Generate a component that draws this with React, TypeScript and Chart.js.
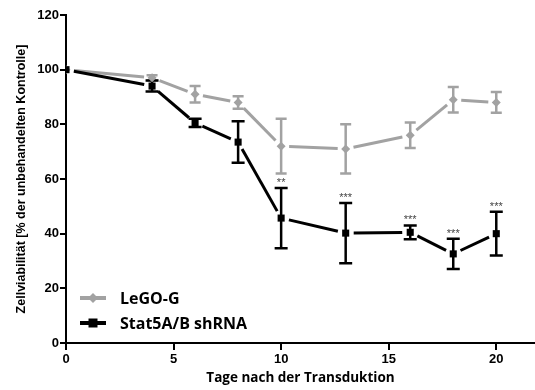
import React, { useEffect, useRef } from 'react';
import { Chart, registerables } from 'chart.js';

Chart.register(...registerables);

// ---- data ----
const days = [0, 4, 6, 8, 10, 13, 16, 18, 20];
const seriesNames = ['LeGO-G', 'Stat5A/B shRNA'];
const legoMean = [100, 97, 91, 88, 72, 71, 76, 89, 88];
const legoErr = [0, 1, 3, 2.3, 10, 9, 4.7, 4.7, 3.8];
const statMean = [100, 94, 80.5, 73.5, 45.7, 40.2, 40.5, 32.6, 40];
const statErr = [0, 2, 1.5, 7.6, 11, 11, 2.5, 5.5, 8];
const statSig = ['', '', '', '', '**', '***', '***', '***', '***'];
const xTicks = [0, 5, 10, 15, 20];
const yTicks = [0, 20, 40, 60, 80, 100, 120];
const xTitle = 'Tage nach der Transduktion';
const yTitle = 'Zellviabilität [% der unbehandelten Kontrolle]';

const GRAY = '#a2a2a2';
const BLACK = '#000000';
const GAP = 8;

const overlay = {
  id: 'overlay',
  beforeDatasetsDraw(chart: any) {
    const { ctx, scales } = chart;
    const x = scales.x, y = scales.y;
    const series = [
      { mean: legoMean, err: legoErr, color: GRAY, cap: 5.5 },
      { mean: statMean, err: statErr, color: BLACK, cap: 6.5 },
    ];
    ctx.save();
    for (const s of series) {
      ctx.strokeStyle = s.color;
      ctx.lineWidth = 3;
      ctx.lineCap = 'butt';
      for (let i = 0; i < days.length - 1; i++) {
        const x0 = x.getPixelForValue(days[i]);
        const y0 = y.getPixelForValue(s.mean[i]);
        const x1 = x.getPixelForValue(days[i + 1]);
        const y1 = y.getPixelForValue(s.mean[i + 1]);
        const dx = x1 - x0, dy = y1 - y0;
        const len = Math.hypot(dx, dy);
        if (len <= 2 * GAP) continue;
        const ux = dx / len, uy = dy / len;
        ctx.beginPath();
        ctx.moveTo(x0 + ux * GAP, y0 + uy * GAP);
        ctx.lineTo(x1 - ux * GAP, y1 - uy * GAP);
        ctx.stroke();
      }
      ctx.lineWidth = 2.5;
      for (let i = 0; i < days.length; i++) {
        if (!s.err[i]) continue;
        const px = x.getPixelForValue(days[i]);
        const top = y.getPixelForValue(s.mean[i] + s.err[i]);
        const bot = y.getPixelForValue(s.mean[i] - s.err[i]);
        ctx.beginPath();
        ctx.moveTo(px, top);
        ctx.lineTo(px, bot);
        ctx.moveTo(px - s.cap, top);
        ctx.lineTo(px + s.cap, top);
        ctx.moveTo(px - s.cap, bot);
        ctx.lineTo(px + s.cap, bot);
        ctx.stroke();
      }
    }
    ctx.restore();
  },
  afterDatasetsDraw(chart: any) {
    const { ctx, scales, chartArea } = chart;
    const x = scales.x, y = scales.y;
    ctx.save();
    // significance marks
    ctx.fillStyle = '#444444';
    ctx.font = '11px "Liberation Sans", Arial, sans-serif';
    ctx.textAlign = 'center';
    ctx.textBaseline = 'alphabetic';
    for (let i = 0; i < days.length; i++) {
      if (!statSig[i]) continue;
      const px = x.getPixelForValue(days[i]);
      const top = y.getPixelForValue(statMean[i] + statErr[i]);
      ctx.fillText(statSig[i], px, top - 2);
    }
    // legend
    const lx0 = chartArea.left + 14;
    const lx1 = chartArea.left + 40;
    const rows = [chartArea.bottom - 45, chartArea.bottom - 20];
    const colors = [GRAY, BLACK];
    for (let k = 0; k < seriesNames.length; k++) {
      const ry = rows[k];
      ctx.strokeStyle = colors[k];
      ctx.fillStyle = colors[k];
      ctx.lineWidth = 4;
      ctx.beginPath();
      ctx.moveTo(lx0, ry);
      ctx.lineTo(lx1, ry);
      ctx.stroke();
      const cx = (lx0 + lx1) / 2;
      ctx.beginPath();
      if (k === 0) {
        ctx.moveTo(cx, ry - 5);
        ctx.lineTo(cx + 5, ry);
        ctx.lineTo(cx, ry + 5);
        ctx.lineTo(cx - 5, ry);
        ctx.closePath();
      } else {
        ctx.rect(cx - 4.5, ry - 4.5, 9, 9);
      }
      ctx.fill();
      ctx.fillStyle = BLACK;
      ctx.font = 'bold 16px "Open Sans", sans-serif';
      ctx.textAlign = 'left';
      ctx.textBaseline = 'middle';
      ctx.fillText(seriesNames[k], lx1 + 14, ry + 1);
    }
    ctx.restore();
  },
};

export default function App() {
  const ref = useRef<HTMLCanvasElement | null>(null);
  useEffect(() => {
    document.body.style.margin = '0';
    const canvas = ref.current;
    if (!canvas) return;
    const chart = new Chart(canvas, {
      type: 'scatter',
      data: {
        datasets: [
          {
            label: seriesNames[0],
            data: days.map((d, i) => ({ x: d, y: legoMean[i] })),
            showLine: false,
            pointStyle: 'rectRot',
            pointRadius: 4.5,
            backgroundColor: GRAY,
            borderColor: GRAY,
            borderWidth: 0,
            order: 1,
          },
          {
            label: seriesNames[1],
            data: days.map((d, i) => ({ x: d, y: statMean[i] })),
            showLine: false,
            pointStyle: 'rect',
            pointRadius: 5,
            backgroundColor: BLACK,
            borderColor: BLACK,
            borderWidth: 0,
            order: 0,
          },
        ],
      },
      options: {
        animation: false,
        responsive: false,
        layout: { autoPadding: false, padding: { top: 15, left: 0, right: 0, bottom: 0 } },
        plugins: { legend: { display: false }, tooltip: { enabled: false } },
        scales: {
          x: {
            type: 'linear',
            min: 0,
            max: 21.8,
            afterBuildTicks: (s: any) => { s.ticks = xTicks.map((v) => ({ value: v })); },
            afterFit: (s: any) => { s.height = 47; },
            grid: { drawOnChartArea: false, drawTicks: true, tickLength: 7, color: BLACK, lineWidth: 2 },
            border: { color: BLACK, width: 2 },
            ticks: { color: BLACK, padding: 2, font: { family: '"Liberation Sans", Arial, sans-serif', size: 13, weight: 'bold' } },
            title: {
              display: true,
              text: xTitle,
              color: BLACK,
              padding: { top: 0, bottom: 4 },
              font: { family: '"Open Sans", sans-serif', size: 13.5, weight: 'bold' },
            },
          },
          y: {
            type: 'linear',
            min: 0,
            max: 120,
            afterBuildTicks: (s: any) => { s.ticks = yTicks.map((v) => ({ value: v })); },
            afterFit: (s: any) => { s.width = 66; },
            grid: { drawOnChartArea: false, drawTicks: true, tickLength: 6, color: BLACK, lineWidth: 2 },
            border: { color: BLACK, width: 2 },
            ticks: { color: BLACK, padding: 1, font: { family: '"Liberation Sans", Arial, sans-serif', size: 13, weight: 'bold' } },
            title: {
              display: true,
              text: yTitle,
              color: BLACK,
              padding: { top: 14.5, bottom: 0 },
              font: { family: '"Liberation Sans", Arial, sans-serif', size: 12.5, weight: 'bold' },
            },
          },
        },
      },
      plugins: [overlay],
    });
    return () => chart.destroy();
  }, []);
  return <canvas ref={ref} width={535} height={390} style={{ display: 'block' }} />;
}
